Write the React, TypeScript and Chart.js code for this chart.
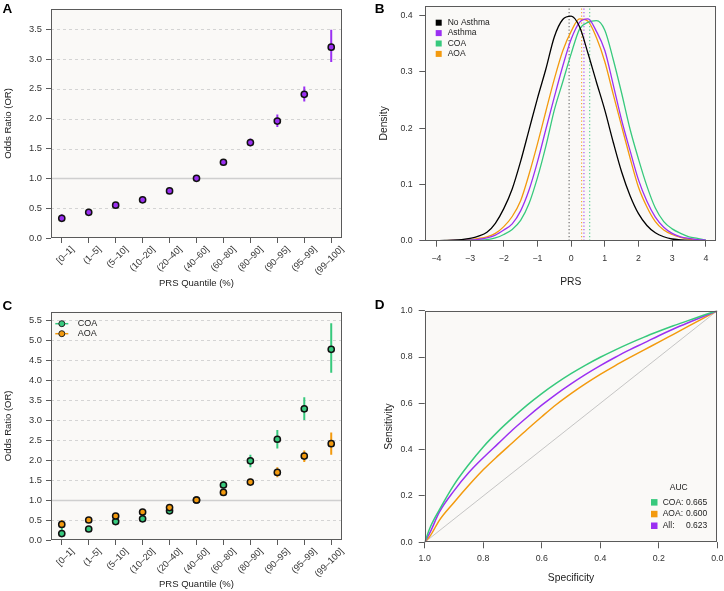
import React, { useEffect, useRef } from 'react';
import { Chart, registerables } from 'chart.js';

Chart.register(...registerables);

const FONT = "'Liberation Sans', Arial, Helvetica, sans-serif";
Chart.defaults.font.family = FONT;

const PURPLE = '#9B30F2';
const GREEN = '#37C97D';
const ORANGE = '#F39A0E';
const BG = '#FAF9F7';
const FRAME = '#5a5a5a';
const TXT = '#333333';

// ---------- Panel A / C : odds ratios by PRS quantile ----------
const quantiles = ['[0–1]', '(1–5]', '(5–10]', '(10–20]', '(20–40]', '(40–60]', '(60–80]', '(80–90]', '(90–95]', '(95–99]', '(99–100]'];
const orTicksA = [0, 0.5, 1, 1.5, 2, 2.5, 3, 3.5];
const orAll = [0.33, 0.43, 0.55, 0.64, 0.79, 1.0, 1.27, 1.6, 1.96, 2.41, 3.2];
const orAllLo = [0.27, 0.39, 0.52, 0.61, 0.77, 1.0, 1.24, 1.54, 1.86, 2.29, 2.95];
const orAllHi = [0.4, 0.47, 0.58, 0.67, 0.82, 1.0, 1.31, 1.67, 2.07, 2.54, 3.49];

const orTicksC = [0, 0.5, 1, 1.5, 2, 2.5, 3, 3.5, 4, 4.5, 5, 5.5];
const orCOA = [0.16, 0.275, 0.46, 0.53, 0.73, 1.0, 1.375, 1.98, 2.52, 3.28, 4.77];
const orCOALo = [0.08, 0.22, 0.39, 0.49, 0.7, 1.0, 1.28, 1.82, 2.29, 3.0, 4.18];
const orCOAHi = [0.3, 0.33, 0.52, 0.58, 0.77, 1.0, 1.48, 2.13, 2.75, 3.57, 5.42];
const orAOA = [0.39, 0.5, 0.6, 0.7, 0.81, 1.0, 1.19, 1.45, 1.69, 2.1, 2.41];
const orAOALo = [0.3, 0.46, 0.56, 0.67, 0.78, 1.0, 1.14, 1.37, 1.57, 1.95, 2.13];
const orAOAHi = [0.5, 0.55, 0.64, 0.73, 0.84, 1.0, 1.24, 1.54, 1.82, 2.24, 2.69];

// ---------- Panel B : PRS densities ----------
const prsGrid = [-4, -3.75, -3.5, -3.25, -3, -2.75, -2.5, -2.25, -2, -1.75, -1.5, -1.25, -1, -0.75, -0.5, -0.25, 0, 0.25, 0.5, 0.75, 1, 1.25, 1.5, 1.75, 2, 2.25, 2.5, 2.75, 3, 3.25, 3.5, 3.75, 4];
const densNoAsthma = [0.0001, 0.0005, 0.001, 0.002, 0.004, 0.008, 0.015, 0.031, 0.057, 0.092, 0.141, 0.197, 0.253, 0.305, 0.362, 0.393, 0.399, 0.38, 0.333, 0.282, 0.232, 0.175, 0.122, 0.08, 0.048, 0.027, 0.014, 0.007, 0.003, 0.0015, 0.0006, 0.0002, 0.0001];
const densAsthma = [0, 0.0002, 0.0004, 0.0008, 0.0012, 0.0025, 0.005, 0.01, 0.019, 0.03, 0.053, 0.09, 0.14, 0.198, 0.255, 0.31, 0.358, 0.388, 0.394, 0.372, 0.338, 0.277, 0.214, 0.16, 0.108, 0.07, 0.042, 0.024, 0.013, 0.007, 0.004, 0.002, 0.001];
const densCOA = [0, 0.0001, 0.0002, 0.0004, 0.0008, 0.0012, 0.002, 0.005, 0.011, 0.02, 0.036, 0.066, 0.112, 0.168, 0.232, 0.282, 0.332, 0.376, 0.388, 0.391, 0.374, 0.322, 0.262, 0.198, 0.145, 0.097, 0.058, 0.034, 0.021, 0.013, 0.007, 0.004, 0.001];
const densAOA = [0, 0.0002, 0.0005, 0.001, 0.002, 0.004, 0.007, 0.013, 0.025, 0.043, 0.071, 0.118, 0.172, 0.23, 0.287, 0.337, 0.372, 0.394, 0.39, 0.361, 0.318, 0.26, 0.203, 0.147, 0.095, 0.06, 0.034, 0.019, 0.011, 0.006, 0.003, 0.0015, 0.0005];
const groupMeans = [-0.06, 0.38, 0.55, 0.31]; // No Asthma, Asthma, COA, AOA
const densTicksX = [-4, -3, -2, -1, 0, 1, 2, 3, 4];
const densTicksY = [0, 0.1, 0.2, 0.3, 0.4];

// ---------- Panel D : ROC ----------
const specGrid = [1.0, 0.98, 0.95, 0.9, 0.85, 0.8, 0.75, 0.7, 0.65, 0.6, 0.55, 0.5, 0.45, 0.4, 0.35, 0.3, 0.25, 0.2, 0.15, 0.1, 0.05, 0.0];
const sensCOA = [0, 0.068, 0.14, 0.248, 0.335, 0.412, 0.478, 0.537, 0.592, 0.642, 0.687, 0.728, 0.765, 0.799, 0.83, 0.859, 0.886, 0.911, 0.935, 0.957, 0.979, 1.0];
const sensAll = [0, 0.047, 0.13, 0.222, 0.3, 0.365, 0.425, 0.485, 0.54, 0.592, 0.64, 0.684, 0.725, 0.763, 0.798, 0.831, 0.861, 0.892, 0.921, 0.948, 0.974, 1.0];
const sensAOA = [0, 0.03, 0.095, 0.172, 0.245, 0.313, 0.373, 0.43, 0.487, 0.542, 0.595, 0.642, 0.685, 0.725, 0.762, 0.797, 0.831, 0.864, 0.898, 0.932, 0.966, 1.0];
const rocTicks = [0, 0.2, 0.4, 0.6, 0.8, 1.0];
const aucLabels = ['COA:', 'AOA:', 'All:'];
const aucValues = ['0.665', '0.600', '0.623'];

// ---------- helpers ----------
function errorSegments(lo: number[], hi: number[]) {
  const out: any[] = [];
  lo.forEach((l, i) => {
    out.push({ x: i + 1, y: l }, { x: i + 1, y: hi[i] }, { x: i + 1, y: null });
  });
  return out;
}

type HLine = { v: number; dash: number[]; color: string; width: number };
type Deco = { letter: string; lx: number; ly: number; hlines?: HLine[]; legend?: (ctx: CanvasRenderingContext2D) => void };

function decoPlugin(d: Deco) {
  return {
    id: 'deco',
    beforeDatasetsDraw(chart: any) {
      const { ctx, chartArea: a } = chart;
      ctx.save();
      ctx.fillStyle = BG;
      ctx.fillRect(a.left, a.top, a.right - a.left, a.bottom - a.top);
      (d.hlines || []).forEach((h) => {
        const y = Math.round(chart.scales.y.getPixelForValue(h.v)) + 0.5;
        ctx.beginPath();
        ctx.setLineDash(h.dash);
        ctx.strokeStyle = h.color;
        ctx.lineWidth = h.width;
        ctx.moveTo(a.left, y);
        ctx.lineTo(a.right, y);
        ctx.stroke();
      });
      ctx.restore();
    },
    afterDraw(chart: any) {
      const { ctx, chartArea: a } = chart;
      ctx.save();
      ctx.setLineDash([]);
      ctx.strokeStyle = FRAME;
      ctx.lineWidth = 1;
      const l = Math.round(a.left) + 0.5, t = Math.round(a.top) + 0.5;
      const r = Math.round(a.right) - 0.5, b = Math.round(a.bottom) - 0.5;
      ctx.strokeRect(l, t, r - l, b - t);
      if (d.legend) d.legend(ctx);
      ctx.fillStyle = '#000';
      ctx.font = `bold 13.5px ${FONT}`;
      ctx.textBaseline = 'alphabetic';
      ctx.textAlign = 'left';
      ctx.fillText(d.letter, d.lx, d.ly);
      ctx.restore();
    },
  };
}

function tickGrid(len: number) {
  return { display: true, drawOnChartArea: false, drawTicks: true, tickLength: len, color: FRAME, tickColor: FRAME, lineWidth: 1 };
}

function catXScale(height: number, titlePadBottom: number) {
  return {
    type: 'linear',
    min: 0.6,
    max: 11.4,
    afterBuildTicks: (s: any) => { s.ticks = quantiles.map((_, i) => ({ value: i + 1 })); },
    afterFit: (s: any) => { s.height = height; s.paddingLeft = 0; s.paddingRight = 0; },
    ticks: {
      callback: (_v: any, i: number) => quantiles[i],
      minRotation: 45, maxRotation: 45, autoSkip: false,
      labelOffset: 11, padding: 1,
      font: { family: FONT, size: 9.2 }, color: TXT,
    },
    grid: tickGrid(5),
    border: { display: false },
    title: { display: true, text: 'PRS Quantile (%)', color: '#222', font: { family: FONT, size: 9.5 }, padding: { top: 0, bottom: titlePadBottom } },
  };
}

function valYScale(o: { min: number; max: number; ticks: number[]; width: number; title: string; titlePadTop: number; size: number; tfs: number; tl: number; pad: number }) {
  return {
    type: 'linear',
    min: o.min,
    max: o.max,
    afterBuildTicks: (s: any) => { s.ticks = o.ticks.map((v) => ({ value: v })); },
    afterFit: (s: any) => { s.width = o.width; s.paddingTop = 0; s.paddingBottom = 0; },
    ticks: { callback: (v: any) => Number(v).toFixed(1), padding: o.pad, font: { family: FONT, size: o.size }, color: TXT },
    grid: tickGrid(o.tl),
    border: { display: false },
    title: { display: true, text: o.title, color: '#222', font: { family: FONT, size: o.tfs }, padding: { top: o.titlePadTop, bottom: 0 } },
  };
}

const commonPlugins = { legend: { display: false }, tooltip: { enabled: false } };
const PT = { borderColor: '#111', borderWidth: 1.5, pointRadius: 3.1 };

function configA() {
  return {
    type: 'scatter',
    data: {
      datasets: [
        { type: 'scatter', data: orAll.map((v, i) => ({ x: i + 1, y: v })), backgroundColor: PURPLE, ...PT },
        { type: 'line', data: errorSegments(orAllLo, orAllHi), borderColor: PURPLE, borderWidth: 2, pointRadius: 0, showLine: true, spanGaps: false },
      ],
    },
    options: {
      responsive: false, animation: false, events: [],
      layout: { autoPadding: false, padding: { left: 0, top: 9, right: 20, bottom: 0 } },
      scales: {
        x: catXScale(57, 6.3),
        y: valYScale({ min: 0, max: 3.84, ticks: orTicksA, width: 51, title: 'Odds Ratio (OR)', titlePadTop: 2.6, size: 9.3, tfs: 9.5, tl: 5, pad: 4 }),
      },
      plugins: commonPlugins,
    },
    plugins: [decoPlugin({
      letter: 'A', lx: 2.5, ly: 13.3,
      hlines: [
        ...orTicksA.filter((v) => v !== 0 && v !== 1).map((v) => ({ v, dash: [3, 3], color: '#d4d4d4', width: 1 })),
        { v: 1, dash: [], color: '#cfcfcf', width: 1.3 },
      ],
    })],
  };
}

function configC() {
  return {
    type: 'scatter',
    data: {
      datasets: [
        { type: 'scatter', data: orAOA.map((v, i) => ({ x: i + 1, y: v })), backgroundColor: ORANGE, ...PT },
        { type: 'scatter', data: orCOA.map((v, i) => ({ x: i + 1, y: v })), backgroundColor: GREEN, ...PT },
        { type: 'line', data: errorSegments(orAOALo, orAOAHi), borderColor: ORANGE, borderWidth: 2, pointRadius: 0, showLine: true, spanGaps: false },
        { type: 'line', data: errorSegments(orCOALo, orCOAHi), borderColor: GREEN, borderWidth: 2, pointRadius: 0, showLine: true, spanGaps: false },
      ],
    },
    options: {
      responsive: false, animation: false, events: [],
      layout: { autoPadding: false, padding: { left: 0, top: 16.7, right: 20, bottom: 0 } },
      scales: {
        x: catXScale(51, 1.3),
        y: valYScale({ min: 0, max: 5.71, ticks: orTicksC, width: 51, title: 'Odds Ratio (OR)', titlePadTop: 2.6, size: 9.3, tfs: 9.5, tl: 5, pad: 4 }),
      },
      plugins: commonPlugins,
    },
    plugins: [decoPlugin({
      letter: 'C', lx: 2.5, ly: 15.3,
      hlines: [
        ...orTicksC.filter((v) => v !== 0 && v !== 1).map((v) => ({ v, dash: [3, 3], color: '#d4d4d4', width: 1 })),
        { v: 1, dash: [], color: '#cfcfcf', width: 1.3 },
      ],
      legend: (ctx) => {
        const rows: [string, string][] = [['COA', GREEN], ['AOA', ORANGE]];
        rows.forEach(([name, col], i) => {
          const y = 28.7 + i * 10;
          ctx.strokeStyle = col; ctx.lineWidth = 1.5;
          ctx.beginPath(); ctx.moveTo(55.3, y); ctx.lineTo(68.3, y); ctx.stroke();
          ctx.beginPath(); ctx.arc(61.8, y, 3, 0, Math.PI * 2);
          ctx.fillStyle = col; ctx.fill();
          ctx.strokeStyle = '#222'; ctx.lineWidth = 1; ctx.stroke();
          ctx.fillStyle = '#222'; ctx.font = `9px ${FONT}`; ctx.textBaseline = 'middle'; ctx.textAlign = 'left';
          ctx.fillText(name, 77.7, y);
        });
      },
    })],
  };
}

function configB() {
  const curves: [string, number[], string][] = [
    ['No Asthma', densNoAsthma, '#000000'],
    ['Asthma', densAsthma, PURPLE],
    ['COA', densCOA, GREEN],
    ['AOA', densAOA, ORANGE],
  ];
  const meanCols = ['rgba(0,0,0,0.55)', 'rgba(155,48,242,0.8)', 'rgba(55,201,125,0.8)', 'rgba(243,154,14,0.8)'];
  const meanSets = groupMeans.map((m, i) => ({
    type: 'line', data: [{ x: m, y: 0 }, { x: m, y: 0.417 }], borderColor: meanCols[i], borderWidth: 1.2, borderDash: [1.3, 2.2], pointRadius: 0, showLine: true,
  }));
  return {
    type: 'scatter',
    data: {
      datasets: [
        ...curves.map(([, d, col]) => ({
          type: 'line', data: prsGrid.map((x, i) => ({ x, y: d[i] })), borderColor: col, borderWidth: 1.3, pointRadius: 0, showLine: true, cubicInterpolationMode: 'monotone',
        })),
        ...meanSets,
      ],
    },
    options: {
      responsive: false, animation: false, events: [],
      layout: { autoPadding: false, padding: { left: 0, top: 6, right: 7.7, bottom: 0 } },
      scales: {
        x: {
          type: 'linear', min: -4.33, max: 4.31,
          afterBuildTicks: (s: any) => { s.ticks = densTicksX.map((v) => ({ value: v })); },
          afterFit: (s: any) => { s.height = 54.3; s.paddingLeft = 0; s.paddingRight = 0; },
          ticks: { callback: (v: any) => (v < 0 ? '\u2212' + Math.abs(v) : String(v)), padding: 6.5, font: { family: FONT, size: 8.8 }, color: TXT, maxRotation: 0, autoSkip: false },
          grid: tickGrid(6),
          border: { display: false },
          title: { display: true, text: 'PRS', color: '#222', font: { family: FONT, size: 10.3 }, padding: { top: 0, bottom: 7.1 } },
        },
        y: valYScale({ min: 0, max: 0.417, ticks: densTicksY, width: 63.3, title: 'Density', titlePadTop: 15.5, size: 8.8, tfs: 10.3, tl: 6, pad: 6.6 }),
      },
      plugins: commonPlugins,
    },
    plugins: [decoPlugin({
      letter: 'B', lx: 12.7, ly: 12.9,
      legend: (ctx) => {
        curves.forEach(([name, , col], i) => {
          const y = 22.7 + i * 10.4;
          ctx.fillStyle = col;
          ctx.fillRect(73.7, y - 3, 6, 6);
          ctx.fillStyle = '#222'; ctx.font = `8.5px ${FONT}`; ctx.textBaseline = 'middle'; ctx.textAlign = 'left';
          ctx.fillText(name, 85.7, y);
        });
      },
    })],
  };
}

function configD() {
  const rocs: [number[], string][] = [[sensCOA, GREEN], [sensAll, PURPLE], [sensAOA, ORANGE]];
  const legendCols = [GREEN, ORANGE, PURPLE];
  return {
    type: 'scatter',
    data: {
      datasets: [
        ...rocs.map(([s, col]) => ({
          type: 'line', data: specGrid.map((x, i) => ({ x, y: s[i] })), borderColor: col, borderWidth: 1.5, pointRadius: 0, showLine: true, cubicInterpolationMode: 'monotone',
        })),
        { type: 'line', data: [{ x: 1, y: 0 }, { x: 0, y: 1 }], borderColor: '#b8b8b8', borderWidth: 0.8, pointRadius: 0, showLine: true },
      ],
    },
    options: {
      responsive: false, animation: false, events: [],
      layout: { autoPadding: false, padding: { left: 0, top: 15.7, right: 6.7, bottom: 0 } },
      scales: {
        x: {
          type: 'linear', min: 0, max: 1, reverse: true,
          afterBuildTicks: (s: any) => { s.ticks = rocTicks.map((v) => ({ value: v })); },
          afterFit: (s: any) => { s.height = 48.7; s.paddingLeft = 0; s.paddingRight = 0; },
          ticks: { callback: (v: any) => Number(v).toFixed(1), padding: 4.9, font: { family: FONT, size: 8.8 }, color: TXT, maxRotation: 0, autoSkip: false },
          grid: tickGrid(6),
          border: { display: false },
          title: { display: true, text: 'Specificity', color: '#222', font: { family: FONT, size: 10.3 }, padding: { top: 0, bottom: 6.5 } },
        },
        y: valYScale({ min: 0, max: 1, ticks: rocTicks, width: 62.7, title: 'Sensitivity', titlePadTop: 20.5, size: 8.8, tfs: 10.3, tl: 6, pad: 6 }),
      },
      plugins: commonPlugins,
    },
    plugins: [decoPlugin({
      letter: 'D', lx: 12.7, ly: 14.3,
      legend: (ctx) => {
        ctx.fillStyle = '#222'; ctx.font = `8.5px ${FONT}`; ctx.textBaseline = 'middle';
        ctx.textAlign = 'center';
        ctx.fillText('AUC', 316.7, 192.7);
        ctx.textAlign = 'left';
        aucLabels.forEach((lab, i) => {
          const y = 207.3 + i * 11.7;
          ctx.fillStyle = legendCols[i];
          ctx.fillRect(289, y - 3.2, 6.5, 6.5);
          ctx.fillStyle = '#222';
          ctx.fillText(lab, 300.7, y);
          ctx.fillText(aucValues[i], 324, y);
        });
      },
    })],
  };
}

function ChartCanvas(props: { make: () => any; left: number; top: number; width: number; height: number }) {
  const ref = useRef<HTMLCanvasElement>(null);
  useEffect(() => {
    const chart = new Chart(ref.current as HTMLCanvasElement, props.make());
    return () => chart.destroy();
  }, []);
  const { left, top, width, height } = props;
  return <canvas ref={ref} width={width} height={height} style={{ position: 'absolute', left, top, width, height }} />;
}

export default function App() {
  return (
    <div style={{ position: 'absolute', left: 0, top: 0, width: 724, height: 591, background: '#fff', overflow: 'hidden' }}>
      <ChartCanvas make={configA} left={0} top={0} width={362} height={295} />
      <ChartCanvas make={configB} left={362} top={0} width={362} height={295} />
      <ChartCanvas make={configC} left={0} top={295} width={362} height={296} />
      <ChartCanvas make={configD} left={362} top={295} width={362} height={296} />
    </div>
  );
}
